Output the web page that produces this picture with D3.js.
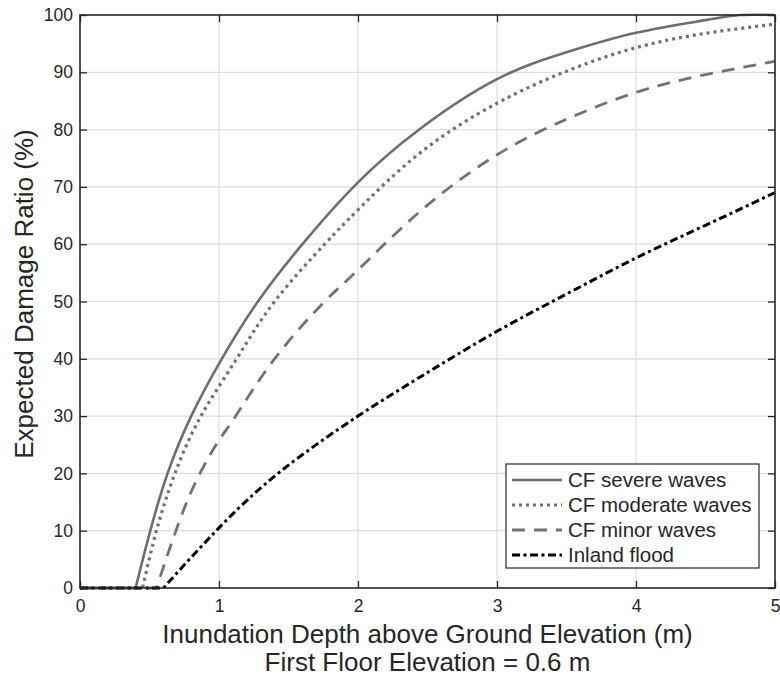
<!DOCTYPE html>
<html>
<head>
<meta charset="utf-8">
<script src="https://cdn.jsdelivr.net/npm/d3@7"></script>
<style>
  html, body { margin: 0; padding: 0; background: #ffffff; }
  svg { display: block; font-family: "Liberation Sans", Arial, Helvetica, sans-serif; }
</style>
</head>
<body>
<svg id="chart" width="780" height="676"></svg>
<script>
// ---- data ----
const xTicks = [0, 1, 2, 3, 4, 5];
const yTicks = [0, 10, 20, 30, 40, 50, 60, 70, 80, 90, 100];

const depthSevere = [0, 0.4, 0.5, 0.63, 0.8, 1.02, 1.28, 1.6, 2.0, 2.45, 3.0, 3.5, 4.0, 4.5, 4.75, 5.0];
const damageSevere = [0, 0, 9.5, 20, 30, 40, 50, 60, 70.8, 80.2, 88.8, 93.5, 96.9, 99.1, 100, 100];

const depthModerate = [0, 0.45, 0.55, 0.683, 0.87, 1.127, 1.4, 1.76, 2.0, 2.45, 3.0, 3.5, 4.0, 4.5, 5.0];
const damageModerate = [0, 0, 10, 20, 30, 40, 50, 60, 66, 76, 84.6, 90.2, 94.3, 96.8, 98.4];

const depthMinor = [0, 0.55, 0.72, 0.863, 1.0, 1.12, 1.4, 1.76, 2.0, 2.45, 3.0, 3.5, 4.0, 4.5, 5.0];
const damageMinor = [0, 0, 12, 20, 25.8, 30, 40, 50, 55.5, 65.8, 75.6, 81.8, 86.5, 89.6, 91.9];

const depthInland = [0, 0.6, 1.0, 1.44, 2.0, 2.5, 3.0, 3.5, 4.0, 4.5, 5.0];
const damageInland = [0, 0, 10.5, 20.3, 30, 37.6, 44.8, 51.3, 57.6, 63.3, 69];

const seriesNames = ["CF severe waves", "CF moderate waves", "CF minor waves", "Inland flood"];
const xLabel = "Inundation Depth above Ground Elevation (m)";
const xLabel2 = "First Floor Elevation = 0.6 m";
const yLabel = "Expected Damage Ratio (%)";

// ---- styles ----
const styles = [
  { color: "#6e6e6e", width: 2.6, dash: null },
  { color: "#707070", width: 3.2, dash: "3,4" },
  { color: "#727272", width: 2.8, dash: "13,9" },
  { color: "#000000", width: 3.0, dash: "8,3.5,3,3.5" }
];

const series = [
  { x: depthSevere, y: damageSevere },
  { x: depthModerate, y: damageModerate },
  { x: depthMinor, y: damageMinor },
  { x: depthInland, y: damageInland }
].map((s, i) => ({ name: seriesNames[i], pts: s.x.map((d, j) => [d, s.y[j]]), style: styles[i] }));

// ---- layout ----
const L = 80, T = 15, W = 695, H = 573;
const svg = d3.select("#chart");
const x = d3.scaleLinear().domain([0, 5]).range([L, L + W]);
const y = d3.scaleLinear().domain([0, 100]).range([T + H, T]);

// grid
const grid = svg.append("g");
grid.selectAll("line.gx").data(xTicks.slice(1, -1)).enter().append("line")
  .attr("x1", d => x(d)).attr("x2", d => x(d)).attr("y1", T).attr("y2", T + H)
  .attr("stroke", "#dedede").attr("stroke-width", 1.2);
grid.selectAll("line.gy").data(yTicks.slice(1, -1)).enter().append("line")
  .attr("x1", L).attr("x2", L + W).attr("y1", d => y(d)).attr("y2", d => y(d))
  .attr("stroke", "#dedede").attr("stroke-width", 1.2);

// curves
svg.append("clipPath").attr("id", "clip").append("rect")
  .attr("x", L).attr("y", T - 2).attr("width", W).attr("height", H + 4);
const lineStraight = d3.line().x(d => x(d[0])).y(d => y(d[1]));
const lineCurve = d3.line().x(d => x(d[0])).y(d => y(d[1])).curve(d3.curveNatural);

const curves = svg.append("g").attr("clip-path", "url(#clip)");
series.forEach(s => {
  const flat = s.pts.slice(0, 2);
  const rise = s.pts.slice(1);
  const d = lineStraight(flat) + lineCurve(rise).replace(/^M/, "L");
  const p = curves.append("path").attr("d", d)
    .attr("fill", "none").attr("stroke", s.style.color)
    .attr("stroke-width", s.style.width)
    .attr("stroke-linejoin", "round");
  if (s.style.dash) p.attr("stroke-dasharray", s.style.dash);
});

// axes
const axisColor = "#262626";
const tickFont = 17.5;
const gx = svg.append("g").attr("transform", `translate(0,${T + H})`)
  .call(d3.axisBottom(x).tickValues(xTicks).tickFormat(d3.format("d")).tickSizeInner(-7).tickSizeOuter(0).tickPadding(12));
const gxTop = svg.append("g").attr("transform", `translate(0,${T})`)
  .call(d3.axisTop(x).tickValues(xTicks).tickFormat("").tickSizeInner(-7).tickSizeOuter(0));
const gy = svg.append("g").attr("transform", `translate(${L},0)`)
  .call(d3.axisLeft(y).tickValues(yTicks).tickFormat(d3.format("d")).tickSizeInner(-7).tickSizeOuter(0).tickPadding(7));
const gyRight = svg.append("g").attr("transform", `translate(${L + W},0)`)
  .call(d3.axisRight(y).tickValues(yTicks).tickFormat("").tickSizeInner(-7).tickSizeOuter(0));
[gx, gxTop, gy, gyRight].forEach(g => {
  g.select(".domain").remove();
  g.selectAll("line").attr("stroke", axisColor).attr("stroke-width", 1.3);
  g.selectAll("text").attr("fill", axisColor).style("font-size", tickFont + "px")
    .style("font-family", "'Liberation Sans', Arial, sans-serif");
});

// box
svg.append("rect").attr("x", L).attr("y", T).attr("width", W).attr("height", H)
  .attr("fill", "none").attr("stroke", axisColor).attr("stroke-width", 1.6);

// axis labels
svg.append("text").attr("x", L + W / 2).attr("y", 643).attr("text-anchor", "middle")
  .attr("fill", axisColor).style("font-size", "26px").text(xLabel);
svg.append("text").attr("x", L + W / 2).attr("y", 671).attr("text-anchor", "middle")
  .attr("fill", axisColor).style("font-size", "26px").text(xLabel2);
svg.append("text").attr("transform", `translate(33,294) rotate(-90)`)
  .attr("text-anchor", "middle").attr("fill", axisColor).style("font-size", "26px").text(yLabel);

// legend
const lg = svg.append("g");
lg.append("rect").attr("x", 506).attr("y", 464).attr("width", 253).attr("height", 104)
  .attr("fill", "#ffffff").attr("stroke", axisColor).attr("stroke-width", 1.2);
series.forEach((s, i) => {
  const cy = 480 + i * 25;
  const p = lg.append("line").attr("x1", 512).attr("x2", 562).attr("y1", cy).attr("y2", cy)
    .attr("stroke", s.style.color).attr("stroke-width", s.style.width);
  if (s.style.dash) p.attr("stroke-dasharray", s.style.dash);
  lg.append("text").attr("x", 568).attr("y", cy + 7).attr("fill", axisColor)
    .style("font-size", "20.5px").text(s.name);
});
</script>
</body>
</html>
